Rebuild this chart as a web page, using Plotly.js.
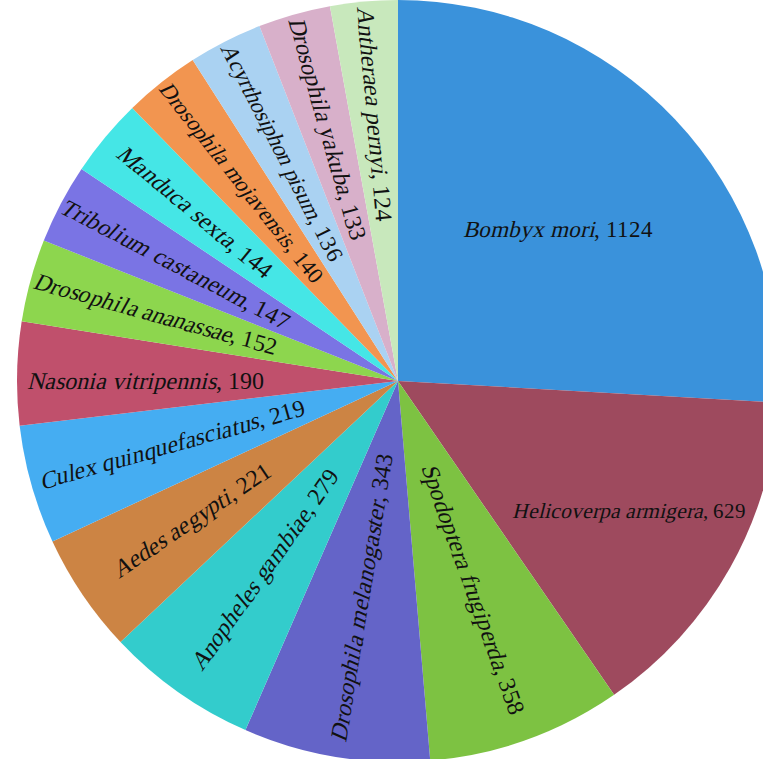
<!DOCTYPE html>
<html><head><meta charset="utf-8">
<script src="https://cdn.plot.ly/plotly-3.0.1.min.js"></script>
<style>
@font-face{font-family:"RefSerif";src:local("Liberation Serif"),local("LiberationSerif"),local("Liberation Serif Regular");font-style:normal;font-weight:normal;}
html,body{margin:0;padding:0;overflow:hidden;background:#fff;}#chart{width:796px;height:762px;}
</style>
</head><body><div id="chart"></div>
<script>
const species = ["Bombyx mori","Helicoverpa armigera","Spodoptera frugiperda","Drosophila melanogaster","Anopheles gambiae","Aedes aegypti","Culex quinquefasciatus","Nasonia vitripennis","Drosophila ananassae","Tribolium castaneum","Manduca sexta","Drosophila mojavensis","Acyrthosiphon pisum","Drosophila yakuba","Antheraea pernyi"];
const counts = [1124,629,358,343,279,221,219,190,152,147,144,140,136,133,124];
const colors = ["#3A92DB","#9E4A5E","#7DC242","#6464C8","#33CCCC","#CC8444","#45ADF2","#C0506C","#8DD64E","#7A74E4","#45E6E6","#F29550","#AAD2F2","#D8B0CA","#C8E8BC"];
const horizontalSet = ["Bombyx mori","Helicoverpa armigera"];

const tplH = species.map(s => horizontalSet.includes(s) ? "<i>%{label}</i>, %{value}" : " ");
const tplR = species.map(s => horizontalSet.includes(s) ? " " : "<i>%{label}</i>, %{value}");
const sizes = species.map(s => s === "Bombyx mori" ? 23 : (s === "Helicoverpa armigera" ? 22 : 24));
const fnt = () => ({family: "RefSerif, Liberation Serif, serif", size: sizes.slice(), color: "#111"});
function base() {
  return {
    type: "pie", labels: species, values: counts, sort: false, direction: "clockwise",
    rotation: 0, textposition: "inside", domain: {x:[0,1], y:[0,1]},
    textfont: fnt(), insidetextfont: fnt(),
    showlegend: false, hoverinfo: "none"
  };
}
const data = [
  Object.assign(base(), {marker: {colors: colors, line: {width: 0}}, texttemplate: tplH, insidetextorientation: "horizontal"}),
  Object.assign(base(), {marker: {colors: species.map(()=>"rgba(0,0,0,0)"), line: {width: 0}}, texttemplate: tplR, insidetextorientation: "radial"})
];
function draw(){
  Plotly.newPlot("chart", data, {
    width: 796, height: 762, margin: {l:0, r:0, t:0, b:0},
    paper_bgcolor: "#fff", showlegend: false, font: {family: "RefSerif, Liberation Serif, serif"}
  }, {displayModeBar: false, staticPlot: true});
}
if (document.fonts && document.fonts.load) {
  Promise.all([document.fonts.load('24px RefSerif'), document.fonts.load('italic 24px RefSerif')]).then(draw, draw);
} else draw();
</script></body></html>
